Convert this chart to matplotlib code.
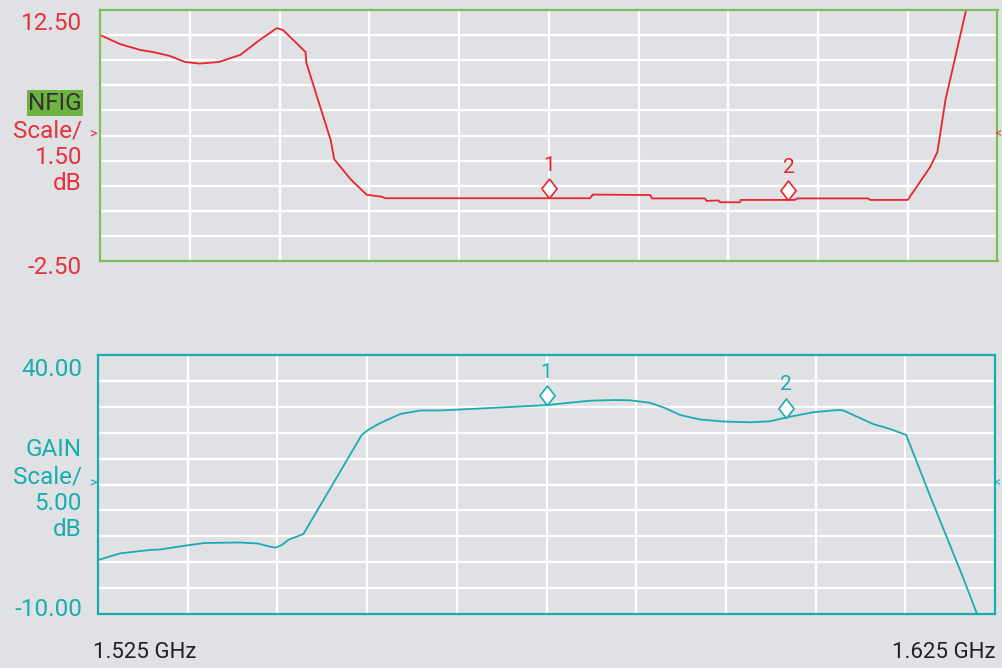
import numpy as np
import matplotlib.pyplot as plt

plt.rcParams['font.family'] = ['Roboto', 'DejaVu Sans']

# sweep 1.525 - 1.625 GHz, frequencies in MHz
nfig_freq = [1525.0, 1527.2, 1529.5, 1530.9, 1532.8, 1534.5, 1536.1, 1538.2,
             1540.6, 1542.8, 1544.7, 1545.4, 1547.9, 1548.0, 1550.7, 1551.1,
             1552.9, 1554.7, 1556.4, 1556.8, 1579.6, 1579.9, 1586.3, 1586.5,
             1592.4, 1592.6, 1593.9, 1594.1, 1596.3, 1596.4, 1602.4, 1602.7,
             1610.6, 1610.8, 1615.0, 1617.5, 1618.3, 1618.6, 1619.2, 1621.5]
nfig_db = [11.01, 10.47, 10.11, 9.99, 9.75, 9.39, 9.30, 9.39,
           9.81, 10.71, 11.42, 11.30, 9.99, 9.33, 4.73, 3.58,
           2.40, 1.46, 1.34, 1.25, 1.25, 1.47, 1.44, 1.24,
           1.24, 1.09, 1.12, 1.01, 1.01, 1.15, 1.15, 1.24,
           1.24, 1.15, 1.15, 3.12, 4.01, 5.03, 7.12, 12.50]

gain_freq = [1525.0, 1527.5, 1530.8, 1531.9, 1534.7, 1536.9, 1540.8, 1542.8,
             1544.2, 1544.8, 1545.5, 1546.2, 1547.9, 1554.4, 1555.1, 1556.4,
             1558.7, 1560.9, 1563.1, 1567.6, 1572.1, 1575.2, 1577.6, 1579.9,
             1582.6, 1584.3, 1586.5, 1588.2, 1589.9, 1592.1, 1594.7, 1597.7,
             1599.9, 1601.8, 1604.7, 1607.5, 1608.1, 1611.4, 1613.4, 1615.1,
             1617.8, 1621.4, 1623.0]
gain_db = [0.42, 1.72, 2.36, 2.45, 3.19, 3.71, 3.80, 3.61,
           2.99, 2.80, 3.32, 4.29, 5.44, 24.56, 25.52, 26.81,
           28.61, 29.29, 29.29, 29.67, 30.06, 30.35, 30.79, 31.18,
           31.31, 31.25, 30.79, 29.77, 28.42, 27.55, 27.16, 27.01,
           27.20, 27.97, 28.94, 29.38, 29.29, 26.68, 25.66, 24.56,
           12.64, -2.80, -10.00]

marker_freq = [1575.0, 1601.7]
marker_names = ['1', '2']

BG = '#e0e1e4'
RED = '#e8242c'
RED_TXT = '#e5323c'
TEAL = '#19adaf'
GREEN = '#7cbf58'
W, H = 1003, 668

fig = plt.figure(figsize=(W / 100, H / 100), dpi=100, facecolor=BG)


def px_text(x, y, s, **kw):
    fig.text(x / W, 1 - y / H, s, va='center', **kw)


def panel(rect, freq, vals, ylim, color, spine_color):
    ax = fig.add_axes(rect, facecolor=BG)
    ax.set_xlim(1525, 1625)
    ax.set_ylim(*ylim)
    ax.set_xticks(np.linspace(1525, 1625, 11))
    ax.set_yticks(np.linspace(ylim[0], ylim[1], 11))
    ax.tick_params(length=0, labelbottom=False, labelleft=False)
    ax.grid(color='white', lw=1.6)
    ax.set_axisbelow(True)
    for sp in ax.spines.values():
        sp.set_color(spine_color)
        sp.set_linewidth(1.6)
    ax.plot(freq, vals, color=color, lw=1.3, clip_on=True)

    # marker diamonds sit with their lower tip on the trace
    diamond = [(0, 0), (0.78, 1), (0, 2), (-0.78, 1), (0, 0)]
    for f, name in zip(marker_freq, marker_names):
        v = np.interp(f, freq, vals)
        ax.plot(f, v, marker=diamond, ms=28, mfc='white', mec=color,
                mew=1.2, zorder=5)
        ax.annotate(name, (f, v), xytext=(0, 23.5), textcoords='offset points',
                    ha='center', va='center', color=color, fontsize=15)
    return ax


panel([100 / W, 1 - 261 / H, 897.5 / W, 251 / H], nfig_freq, nfig_db,
      (-2.5, 12.5), RED, GREEN)
panel([98 / W, 1 - 614 / H, 897 / W, 259 / H], gain_freq, gain_db,
      (-10, 40), TEAL, TEAL)

# NFIG scale labels
px_text(82, 23, '12.50', ha='right', color=RED_TXT, fontsize=17.5)
px_text(82, 267, '-2.50', ha='right', color=RED_TXT, fontsize=17.5)
px_text(82, 103, 'NFIG', ha='right', color='#333333', fontsize=17.5,
        bbox=dict(boxstyle='square,pad=0.05', fc='#6cb43f', ec='none'))
px_text(82, 131, 'Scale/', ha='right', color=RED_TXT, fontsize=17.5)
px_text(82, 158, '1.50', ha='right', color=RED_TXT, fontsize=17.5)
px_text(82, 184, 'dB', ha='right', color=RED_TXT, fontsize=17.5)
px_text(93, 134, '>', ha='center', color=RED_TXT, fontsize=10)
px_text(996, 134, '<', ha='left', color=RED_TXT, fontsize=8.5)

# GAIN scale labels
px_text(82, 370, '40.00', ha='right', color=TEAL, fontsize=17.5)
px_text(82, 610, '-10.00', ha='right', color=TEAL, fontsize=17.5)
px_text(82, 449, 'GAIN', ha='right', color=TEAL, fontsize=17.5)
px_text(82, 477, 'Scale/', ha='right', color=TEAL, fontsize=17.5)
px_text(82, 503, '5.00', ha='right', color=TEAL, fontsize=17.5)
px_text(82, 529, 'dB', ha='right', color=TEAL, fontsize=17.5)
px_text(93, 483, '>', ha='center', color=TEAL, fontsize=10)
px_text(995, 483, '<', ha='left', color=TEAL, fontsize=8.5)

# sweep limits
px_text(93, 652, '1.525 GHz', ha='left', color='#222222', fontsize=16)
px_text(996, 652, '1.625 GHz', ha='right', color='#222222', fontsize=16)

fig.savefig('out.png', dpi=100, facecolor=BG)
